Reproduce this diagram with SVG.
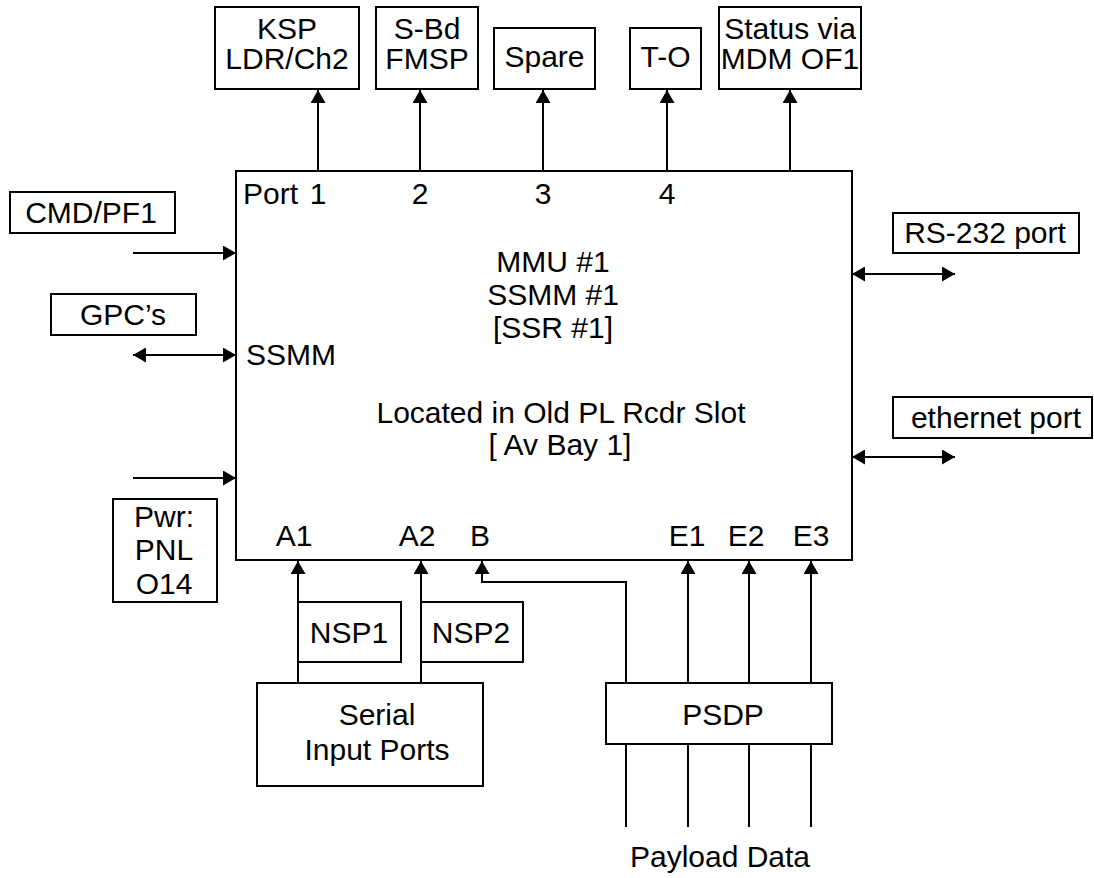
<svg xmlns="http://www.w3.org/2000/svg" width="1094" height="878" viewBox="0 0 1094 878">
<style>
.box{fill:#fff;stroke:#000;stroke-width:2}
.ln{fill:none;stroke:#000;stroke-width:2}
.t{font-family:"Liberation Sans",Arial,sans-serif;font-size:30px;fill:#000}
.c{text-anchor:middle}
</style>
<defs>
<marker id="ah" markerUnits="userSpaceOnUse" markerWidth="15" markerHeight="15" refX="13" refY="7.5" orient="auto-start-reverse" viewBox="0 0 15 15">
<path d="M0,0 L13,7.5 L0,15 z" fill="#000"/>
</marker>
</defs>
<rect width="1094" height="878" fill="#fff"/>

<g id="connectors">
<line class="ln" x1="318" y1="171" x2="318" y2="90" marker-end="url(#ah)"/>
<line class="ln" x1="420" y1="171" x2="420" y2="90" marker-end="url(#ah)"/>
<line class="ln" x1="543" y1="171" x2="543" y2="90" marker-end="url(#ah)"/>
<line class="ln" x1="667" y1="171" x2="667" y2="90" marker-end="url(#ah)"/>
<line class="ln" x1="790" y1="171" x2="790" y2="90" marker-end="url(#ah)"/>
<line class="ln" x1="133" y1="253" x2="236" y2="253" marker-end="url(#ah)"/>
<line class="ln" x1="133" y1="355" x2="236" y2="355" marker-start="url(#ah)" marker-end="url(#ah)"/>
<line class="ln" x1="133" y1="478" x2="236" y2="478" marker-end="url(#ah)"/>
<line class="ln" x1="852" y1="274" x2="955" y2="274" marker-start="url(#ah)" marker-end="url(#ah)"/>
<line class="ln" x1="852" y1="457" x2="955" y2="457" marker-start="url(#ah)" marker-end="url(#ah)"/>
<line class="ln" x1="298" y1="683" x2="298" y2="561" marker-end="url(#ah)"/>
<line class="ln" x1="421" y1="683" x2="421" y2="561" marker-end="url(#ah)"/>
<polyline class="ln" points="626,683 626,582 482,582 482,561" marker-end="url(#ah)"/>
<line class="ln" x1="688" y1="683" x2="688" y2="561" marker-end="url(#ah)"/>
<line class="ln" x1="749" y1="683" x2="749" y2="561" marker-end="url(#ah)"/>
<line class="ln" x1="811" y1="683" x2="811" y2="561" marker-end="url(#ah)"/>
<line class="ln" x1="626" y1="744" x2="626" y2="827"/>
<line class="ln" x1="688" y1="744" x2="688" y2="827"/>
<line class="ln" x1="749" y1="744" x2="749" y2="827"/>
<line class="ln" x1="811" y1="744" x2="811" y2="827"/>
</g>

<g id="mmu">
<rect class="box" x="236" y="171" width="616" height="389"/>
<text class="t" x="243" y="204">Port</text>
<text class="t c" x="318" y="204">1</text>
<text class="t c" x="420" y="204">2</text>
<text class="t c" x="543" y="204">3</text>
<text class="t c" x="667" y="204">4</text>
<text class="t" x="246" y="365">SSMM</text>
<text class="t c" x="553" y="272">MMU #1</text>
<text class="t c" x="553" y="305">SSMM #1</text>
<text class="t c" x="553" y="338">[SSR #1]</text>
<text class="t c" x="561" y="423">Located in Old PL Rcdr Slot</text>
<text class="t c" x="560" y="455">[ Av Bay 1]</text>
<text class="t c" x="294" y="546">A1</text>
<text class="t c" x="417" y="546">A2</text>
<text class="t c" x="480" y="546">B</text>
<text class="t c" x="687" y="546">E1</text>
<text class="t c" x="746" y="546">E2</text>
<text class="t c" x="811" y="546">E3</text>
</g>

<g id="ksp">
<rect class="box" x="215" y="7" width="144" height="82"/>
<text class="t c" x="287" y="39">KSP</text>
<text class="t c" x="287" y="69">LDR/Ch2</text>
</g>
<g id="sbd">
<rect class="box" x="376" y="7" width="102" height="82"/>
<text class="t c" x="427" y="39">S-Bd</text>
<text class="t c" x="427" y="69">FMSP</text>
</g>
<g id="spare">
<rect class="box" x="494" y="28" width="101" height="61"/>
<text class="t c" x="544.5" y="67">Spare</text>
</g>
<g id="to">
<rect class="box" x="630" y="28" width="71" height="61"/>
<text class="t c" x="665.5" y="67">T-O</text>
</g>
<g id="status">
<rect class="box" x="719" y="7" width="142" height="82"/>
<text class="t c" x="790" y="39">Status via</text>
<text class="t c" x="790" y="69">MDM OF1</text>
</g>

<g id="cmd">
<rect class="box" x="10" y="192" width="165" height="41"/>
<text class="t c" x="91" y="223">CMD/PF1</text>
</g>
<g id="gpc">
<rect class="box" x="51" y="294" width="145" height="41"/>
<text class="t c" x="123" y="325">GPC’s</text>
</g>
<g id="pwr">
<rect class="box" x="113" y="499" width="104" height="103"/>
<text class="t c" x="164" y="527">Pwr:</text>
<text class="t c" x="164" y="560">PNL</text>
<text class="t c" x="164" y="594">O14</text>
</g>

<g id="rs232">
<rect class="box" x="893" y="213" width="186" height="40"/>
<text class="t c" x="985" y="243">RS-232 port</text>
</g>
<g id="ethernet">
<rect class="box" x="893" y="397" width="199" height="41"/>
<text class="t c" x="996" y="428">ethernet port</text>
</g>

<g id="nsp1">
<rect class="box" x="298" y="602" width="103" height="60"/>
<text class="t c" x="349" y="643">NSP1</text>
</g>
<g id="nsp2">
<rect class="box" x="421" y="602" width="102" height="60"/>
<text class="t c" x="471" y="643">NSP2</text>
</g>
<g id="serial">
<rect class="box" x="257" y="683" width="226" height="103"/>
<text class="t c" x="377" y="725">Serial</text>
<text class="t c" x="377" y="760">Input Ports</text>
</g>
<g id="psdp">
<rect class="box" x="606" y="683" width="226" height="61"/>
<text class="t c" x="723" y="725">PSDP</text>
</g>
<g id="payload">
<text class="t c" x="720" y="867">Payload Data</text>
</g>
</svg>
